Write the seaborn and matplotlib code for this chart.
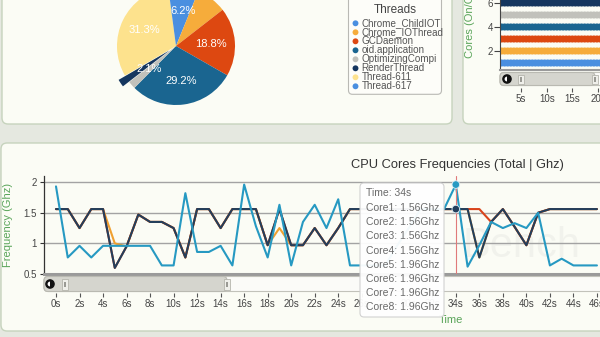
import numpy as np
import pandas as pd
import matplotlib
matplotlib.use("Agg")
import matplotlib.pyplot as plt
import seaborn as sns
from matplotlib.patches import FancyBboxPatch, Circle, Wedge, Rectangle
from matplotlib.transforms import IdentityTransform

sns.set_style("white")
plt.rcParams['font.family'] = ['Liberation Sans', 'DejaVu Sans']

# ---------------- data ----------------
threads = ["Chrome_ChildIOT", "Chrome_IOThread", "GCDaemon", "oid.application",
           "OptimizingCompi", "RenderThread", "Thread-611", "Thread-617"]
thread_share = [6.2, 8.3, 18.8, 29.2, 2.1, 2.1, 31.3, 2.1]
thread_colors = ["#4a8fe0", "#f6ac3b", "#dd4811", "#1a6590",
                 "#c1c1bb", "#15365f", "#fde28d", "#4a8fe0"]
pie_labels = ["6.2%", "", "18.8%", "29.2%", "2.1%", "", "31.3%", ""]

seconds = list(range(47))
core1 = [1.56, 1.56, 1.25, 1.56, 1.56, 0.60, 0.95, 1.47, 1.35, 1.35,
         1.25, 0.77, 1.56, 1.56, 1.25, 1.56, 1.56, 1.56, 0.97, 1.56,
         0.97, 0.97, 1.25, 0.97, 1.25, 1.56, 1.56, 1.56, 1.56, 1.56,
         1.56, 1.56, 1.56, 1.56, 1.56, 1.56, 0.77, 1.35, 1.56, 1.27,
         0.97, 1.50, 1.56, 1.56, 1.56, 1.56, 1.56]
core2 = [1.56, 1.56, 1.25, 1.56, 1.56, 1.00, 0.95, 1.47, 1.35, 1.35,
         1.25, 0.77, 1.56, 1.56, 1.25, 1.56, 1.56, 1.56, 0.97, 1.25,
         0.97, 0.97, 1.25, 0.97, 1.25, 1.56, 1.56, 1.56, 1.56, 1.56,
         1.56, 1.56, 1.56, 1.56, 1.56, 1.56, 0.77, 1.35, 1.56, 1.27,
         0.97, 1.50, 1.56, 1.56, 1.56, 1.56, 1.56]
core3 = [1.56, 1.56, 1.25, 1.56, 1.56, 0.60, 0.95, 1.47, 1.35, 1.35,
         1.25, 0.77, 1.56, 1.56, 1.25, 1.56, 1.56, 1.56, 0.97, 1.56,
         0.97, 0.97, 1.25, 0.97, 1.25, 1.56, 1.56, 1.56, 1.56, 1.56,
         1.56, 1.56, 1.56, 1.56, 1.56, 1.56, 1.56, 1.35, 1.56, 1.27,
         0.97, 1.50, 1.56, 1.56, 1.56, 1.56, 1.56]
core5 = [1.93, 0.77, 0.96, 0.77, 0.96, 0.96, 0.96, 0.96, 0.96, 0.64,
         0.64, 1.82, 0.86, 0.86, 0.96, 0.64, 1.96, 1.28, 0.77, 1.63,
         0.64, 1.35, 1.63, 1.25, 1.72, 0.64, 0.64, 0.64, 0.64, 0.96,
         1.25, 1.56, 1.56, 1.56, 1.96, 0.62, 0.97, 1.35, 1.25, 1.33,
         1.25, 1.50, 0.64, 0.75, 0.64, 0.64, 0.64]
core_names = ["Core1", "Core2", "Core3", "Core4", "Core5", "Core6", "Core7", "Core8"]
core_values = {"Core1": core1, "Core2": core2, "Core3": core3, "Core4": core1,
               "Core5": core5, "Core6": core5, "Core7": core5, "Core8": core5}
freq_ticks = [0.5, 1, 1.5, 2]
time_ticks = list(range(0, 48, 2))
cursor_time = 34

core_rows = [1, 2, 3, 4, 5, 6, 7, 8]
onoff_times = list(np.round(np.arange(0, 21.5, 0.6), 2))
onoff_yticks = [2, 4, 6]
onoff_xticks = [5, 10, 15, 20]

# ---------------- helpers ----------------
W, H = 600, 337
ID = IdentityTransform()
fig = plt.figure(figsize=(6, 3.37), dpi=100)
fig.patch.set_facecolor("#e5e8e0")
GREEN = "#5aa55a"


def rect(x0, y0, x1, y1):
    return [x0 / W, 1 - y1 / H, (x1 - x0) / W, (y1 - y0) / H]


def box(x0, y0, x1, y1, fc, ec, lw=1.0, r=6, z=-5, alpha=1.0):
    p = FancyBboxPatch((x0, H - y1), x1 - x0, y1 - y0,
                       boxstyle=f"round,pad=0,rounding_size={r}",
                       transform=ID, fc=fc, ec=ec, lw=lw, zorder=z, alpha=alpha)
    fig.add_artist(p)
    return p


def ftext(x, y, s, **kw):
    return fig.text(x, H - y, s, transform=ID, **kw)


def scrollbar(x0, x1, yc, h, g0, g1, btn):
    y0 = H - (yc + h / 2)
    fig.add_artist(FancyBboxPatch((x0, y0), x1 - x0, h, boxstyle="round,pad=0,rounding_size=4",
                                  transform=ID, fc="#fbfbf8", ec="#c2c2ba", lw=0.8, zorder=2))
    fig.add_artist(FancyBboxPatch((x0, y0), g1 - x0, h, boxstyle="round,pad=0,rounding_size=4",
                                  transform=ID, fc="#d5d5ce", ec="#b9b9b1", lw=0.8, zorder=2.1))
    for g in (g0, g1):
        fig.add_artist(Rectangle((g - 3, y0 + 2), 6, h - 4, transform=ID,
                                 fc="#efefea", ec="#b5b5ad", lw=0.6, zorder=2.2))
        fig.add_artist(Rectangle((g - 0.7, y0 + h / 2 - 2.5), 1.4, 5, transform=ID,
                                 fc="#9a9a94", ec="none", zorder=2.3))
    fig.add_artist(Circle((btn, H - yc), 4.8, transform=ID, fc="#111111", ec="none", zorder=2.4))
    fig.add_artist(Wedge((btn, H - yc), 2.4, 90, 270, transform=ID, fc="white", ec="none", zorder=2.5))


# ---------------- panels ----------------
box(2, -20, 452, 124, "#fbfcf5", "#c6d3bd")
box(463, -20, 640, 124, "#fbfcf5", "#c6d3bd")
box(1, 143, 640, 331, "#fbfcf5", "#c6d3bd")

# ---------------- pie ----------------
ax_pie = fig.add_axes(rect(117, -13, 235, 105))
explode = [0, 0, 0, 0, 0, 0.13, 0, 0]
wedges, _ = ax_pie.pie(thread_share, colors=thread_colors, startangle=90,
                       counterclock=False, explode=explode,
                       wedgeprops=dict(linewidth=0))
for w, lab in zip(wedges, pie_labels):
    w.set_clip_on(False)
    if lab:
        a = np.deg2rad((w.theta1 + w.theta2) / 2)
        cx, cy = w.center
        ax_pie.text(cx + 0.6 * np.cos(a), cy + 0.6 * np.sin(a), lab, color="white",
                    fontsize=8, ha="center", va="center", clip_on=False)
ax_pie.set_xlim(-1, 1)
ax_pie.set_ylim(-1, 1)
ax_pie.set_aspect("equal")
ax_pie.axis("off")

# ---------------- legend ----------------
ax_leg = fig.add_axes(rect(348, -10, 442, 95))
ax_leg.set_xlim(348, 442)
ax_leg.set_ylim(95, -10)
ax_leg.axis("off")
ax_leg.add_patch(FancyBboxPatch((348.5, -10), 93, 104.3, boxstyle="round,pad=0,rounding_size=4",
                                fc="#fdfdf9", ec="#b9b9b4", lw=0.8, clip_on=False))
ax_leg.text(395.5, 9.5, "Threads", ha="center", va="center", fontsize=8.5, color="#444444")
leg_df = pd.DataFrame({"thread": threads,
                       "x": [355.5] * len(threads),
                       "y": [23.3 + 9 * i for i in range(len(threads))]})
sns.scatterplot(data=leg_df, x="x", y="y", hue="thread", palette=dict(zip(threads, thread_colors)),
                s=18, linewidth=0, legend=False, ax=ax_leg, clip_on=False)
for i, t in enumerate(threads):
    ax_leg.text(361.5, 23.3 + 9 * i, t, ha="left", va="center", fontsize=7.1, color="#555555")
ax_leg.set_xlabel("")
ax_leg.set_ylabel("")

# ---------------- cores on/off ----------------
ax_on = fig.add_axes(rect(500, -27, 600, 70))
ax_on.patch.set_alpha(0)
on_df = pd.DataFrame([(t, c) for c in core_rows for t in onoff_times], columns=["time", "core"])
sns.scatterplot(data=on_df, x="time", y="core", hue="core",
                palette=dict(zip(core_rows, thread_colors)), s=26, linewidth=0,
                legend=False, ax=ax_on)
ax_on.set_xlim(0.9, 20.39)
ax_on.set_ylim(0.417, 8.5)
for s in ("top", "right"):
    ax_on.spines[s].set_visible(False)
ax_on.spines["left"].set_color("#444444")
ax_on.spines["left"].set_linewidth(0.8)
ax_on.spines["bottom"].set_color("#9a9a9a")
ax_on.spines["bottom"].set_linewidth(1.5)
ax_on.set_yticks(onoff_yticks)
ax_on.set_xticks([])
ax_on.tick_params(axis="y", length=4, width=0.8, color="#444444", labelsize=7,
                  labelcolor="#444444", pad=1, left=True)
ax_on.set_xlabel("")
ax_on.set_ylabel("Cores (On/Off)", color=GREEN, fontsize=8)
ax_on.yaxis.set_label_coords(-0.25, 0.5)
sec_on = ax_on.secondary_xaxis(-18 / 97)
sec_on.set_xticks(onoff_xticks)
sec_on.set_xticklabels([f"{t}s" for t in onoff_xticks])
sec_on.tick_params(length=3, width=0.8, color="#555555", labelsize=7, labelcolor="#444444", pad=1.5)
sec_on.spines["bottom"].set_visible(False)
scrollbar(500, 640, 79, 13, 521, 595, 507)

# ---------------- frequencies ----------------
ax_f = fig.add_axes(rect(44, 176, 600, 274))
ax_f.patch.set_alpha(0)
draw_order = ["Core2", "Core3", "Core1", "Core5"]
line_colors = {"Core2": "#f0a030", "Core3": "#d9441c", "Core1": "#233f5c", "Core5": "#2699c2"}
freq_df = pd.DataFrame([(t, core_values[c][i], c) for c in draw_order
                        for i, t in enumerate(seconds)], columns=["time", "freq", "core"])
ftext(522, 257, "Bench", fontsize=30, color="#888888", alpha=0.08, ha="center",
      va="baseline", zorder=-1)
sns.lineplot(data=freq_df, x="time", y="freq", hue="core", hue_order=draw_order,
             palette=line_colors, lw=1.5, legend=False, ax=ax_f, sort=False, estimator=None)
ax_f.axvline(cursor_time, color="#e07a7a", lw=0.8, zorder=5)
cur_df = pd.DataFrame({"time": [cursor_time, cursor_time],
                       "freq": [core_values["Core5"][cursor_time], core_values["Core1"][cursor_time]],
                       "core": ["Core5", "Core1"]})
sns.scatterplot(data=cur_df, x="time", y="freq", hue="core", palette=line_colors,
                s=30, linewidth=0.6, edgecolor="#dfeff7", legend=False, ax=ax_f, zorder=6,
                clip_on=False)
ax_f.set_xlim(-1.02, 46.26)
ax_f.set_ylim(0.5, 2.1)
ax_f.set_yticks(freq_ticks)
ax_f.set_yticklabels(["0.5", "1", "1.5", "2"])
ax_f.set_xticks([])
ax_f.grid(axis="y", color="#a3a3a3", lw=1)
ax_f.set_axisbelow(True)
for s in ("top", "right"):
    ax_f.spines[s].set_visible(False)
ax_f.spines["left"].set_color("#333333")
ax_f.spines["left"].set_linewidth(0.9)
ax_f.spines["bottom"].set_color("#9a9a9a")
ax_f.spines["bottom"].set_linewidth(2.2)
ax_f.tick_params(axis="y", length=3, width=0.8, color="#333333", labelsize=7,
                 labelcolor="#444444", pad=2.2, left=True)
ax_f.set_xlabel("")
ax_f.set_ylabel("Frequency (Ghz)", color=GREEN, fontsize=8)
ax_f.yaxis.set_label_coords(-31 / 556, 0.5)
sec_f = ax_f.secondary_xaxis(-19 / 98)
sec_f.set_xticks(time_ticks)
sec_f.set_xticklabels([f"{t}s" for t in time_ticks])
sec_f.tick_params(length=3, width=0.8, color="#555555", labelsize=7, labelcolor="#444444", pad=1.5)
sec_f.spines["bottom"].set_visible(False)
scrollbar(44, 640, 284, 15, 65, 227, 50)

ftext(457, 165, "CPU Cores Frequencies (Total | Ghz)", fontsize=9.3, color="#333333",
      ha="center", va="center")
ftext(451, 320, "Time", fontsize=8, color=GREEN, ha="center", va="center")

# ---------------- tooltip ----------------
box(360, 183, 444, 317, "#ffffff", "#cfcfcf", lw=0.8, r=4, z=10, alpha=0.95)
ftext(366, 193, f"Time: {cursor_time}s", fontsize=7.5, color="#6a6a6a",
      ha="left", va="center", zorder=11)
for i, c in enumerate(core_names):
    ftext(366, 208 + 14.2 * i, f"{c}: {core_values[c][cursor_time]:.2f}Ghz",
          fontsize=7.5, color="#6a6a6a", ha="left", va="center", zorder=11)

fig.savefig("out.png", dpi=100)
